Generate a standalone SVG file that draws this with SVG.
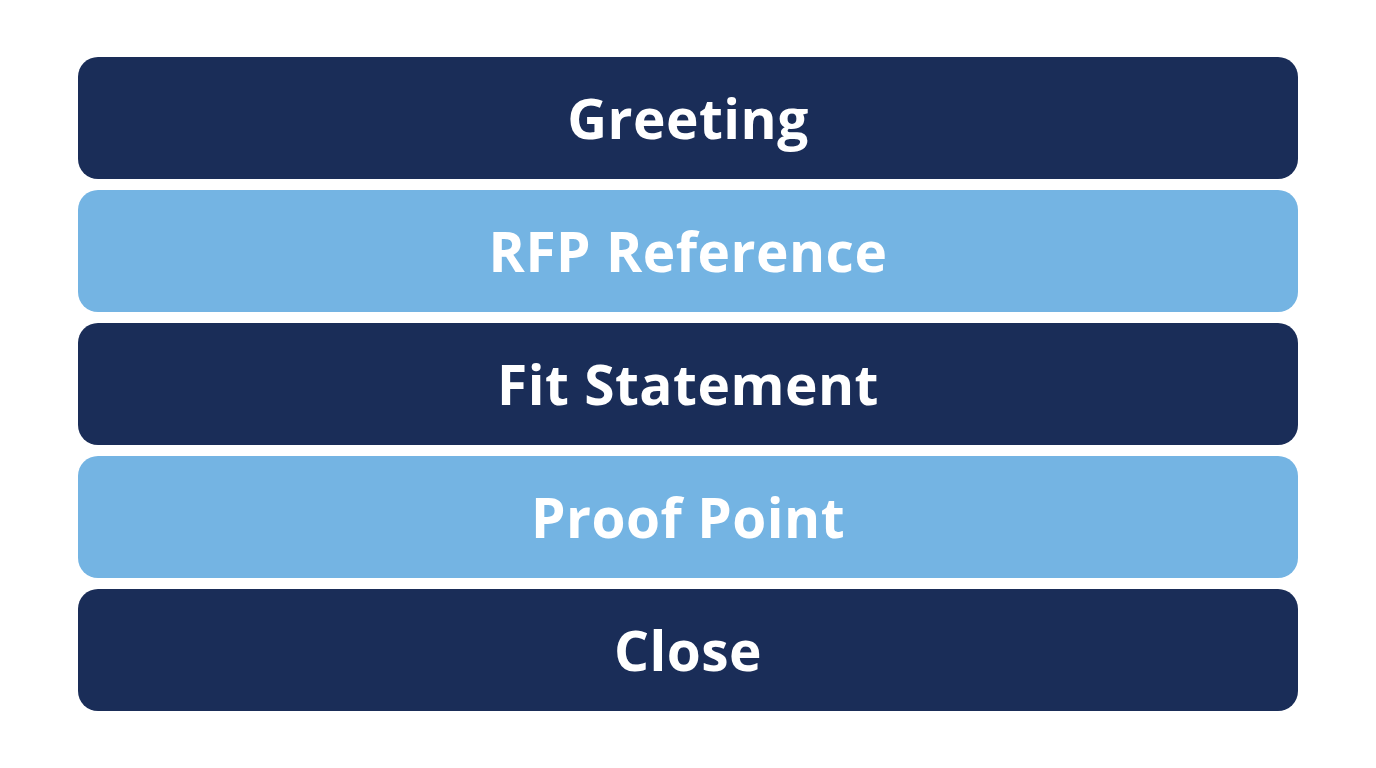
<svg xmlns="http://www.w3.org/2000/svg" width="1376" height="768" viewBox="0 0 1376 768">
<style>
.dark{fill:#1a2d58}.light{fill:#74b4e3}
text{font-family:"Open Sans","Liberation Sans",sans-serif;font-weight:700;font-size:55px;letter-spacing:0.5px;fill:#fff;text-anchor:middle;dominant-baseline:central}
</style>
<rect width="1376" height="768" fill="#fff"/>
<g id="greeting"><rect class="dark" x="78" y="57" width="1220" height="122" rx="20"/><text x="688" y="117">Greeting</text></g>
<g id="rfp"><rect class="light" x="78" y="190" width="1220" height="122" rx="20"/><text x="688" y="250">RFP Reference</text></g>
<g id="fit"><rect class="dark" x="78" y="323" width="1220" height="122" rx="20"/><text x="688" y="383">Fit Statement</text></g>
<g id="proof"><rect class="light" x="78" y="456" width="1220" height="122" rx="20"/><text x="688" y="516">Proof Point</text></g>
<g id="close"><rect class="dark" x="78" y="589" width="1220" height="122" rx="20"/><text x="688" y="649">Close</text></g>
<g id="connectors"/>
</svg>
